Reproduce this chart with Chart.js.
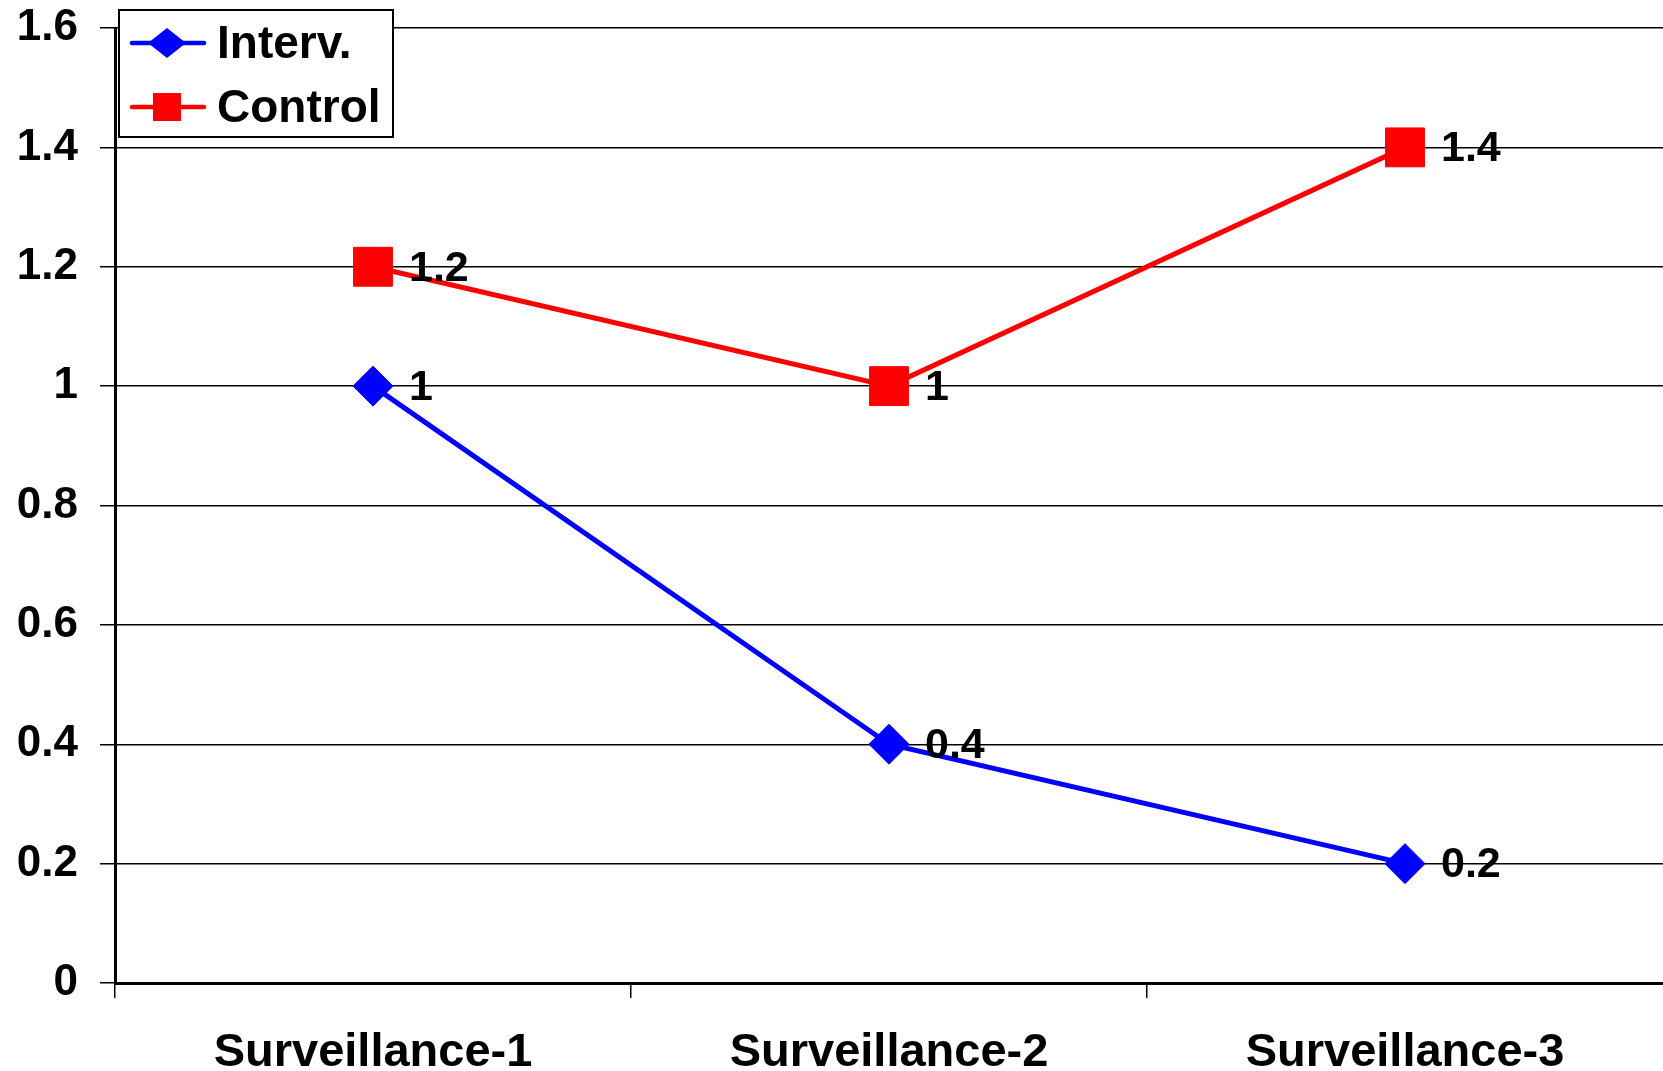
<!DOCTYPE html>
<html>
<head>
<meta charset="utf-8">
<script src="https://cdn.jsdelivr.net/npm/chart.js@4/dist/chart.umd.min.js"></script>
<style>
  html, body { margin: 0; padding: 0; background: #ffffff; }
  #wrap { width: 1663px; height: 1071px; position: relative; }
</style>
</head>
<body>
<div id="wrap"><canvas id="chart"></canvas></div>
<script>
// Survey rounds and the two series measured at each
const categories = ['Surveillance-1', 'Surveillance-2', 'Surveillance-3'];
const seriesNames = ['Interv.', 'Control'];
const intervValues = [1, 0.4, 0.2];
const controlValues = [1.2, 1, 1.4];
const yMin = 0;
const yMax = 1.6;
const yStep = 0.2;

const FONT = '"Liberation Sans", Arial, Helvetica, sans-serif';
const BLUE = '#0000ff';
const RED = '#ff0000';

// Value labels to the right of each marker
const valueLabels = {
  id: 'valueLabels',
  afterDatasetsDraw(chart) {
    const ctx = chart.ctx;
    ctx.save();
    ctx.font = 'bold 43px ' + FONT;
    ctx.fillStyle = '#000';
    ctx.textAlign = 'left';
    ctx.textBaseline = 'middle';
    chart.data.datasets.forEach((ds, i) => {
      const meta = chart.getDatasetMeta(i);
      meta.data.forEach((pt, j) => {
        ctx.fillText(String(ds.data[j]), pt.x + 36, pt.y + 2);
      });
    });
    ctx.restore();
  }
};

// Boxed legend with line-and-marker samples
const boxLegend = {
  id: 'boxLegend',
  afterDraw(chart) {
    const ctx = chart.ctx;
    const bx = 119, by = 10, bw = 274, bh = 127;
    ctx.save();
    ctx.fillStyle = '#fff';
    ctx.fillRect(bx, by, bw, bh);
    ctx.strokeStyle = '#000';
    ctx.lineWidth = 2;
    ctx.strokeRect(bx, by, bw, bh);
    const rows = [43, 107];
    chart.data.datasets.forEach((ds, i) => {
      const y = rows[i];
      ctx.strokeStyle = ds.borderColor;
      ctx.lineWidth = 4.5;
      ctx.lineCap = 'round';
      ctx.beginPath();
      ctx.moveTo(132, y);
      ctx.lineTo(204, y);
      ctx.stroke();
      ctx.fillStyle = ds.backgroundColor;
      const cx = 167;
      if (ds.pointStyle === 'rectRot') {
        ctx.beginPath();
        ctx.moveTo(cx - 19, y);
        ctx.lineTo(cx, y - 15);
        ctx.lineTo(cx + 19, y);
        ctx.lineTo(cx, y + 15);
        ctx.closePath();
        ctx.fill();
      } else {
        ctx.fillRect(cx - 14, y - 14, 28, 28);
      }
      ctx.fillStyle = '#000';
      ctx.font = 'bold 46px ' + FONT;
      ctx.textAlign = 'left';
      ctx.textBaseline = 'middle';
      ctx.fillText(ds.label, 217, y + 2);
    });
    ctx.restore();
  }
};

new Chart(document.getElementById('chart'), {
  type: 'line',
  data: {
    labels: categories,
    datasets: [
      {
        label: seriesNames[0],
        data: intervValues,
        borderColor: BLUE,
        backgroundColor: BLUE,
        borderWidth: 5,
        pointStyle: 'rectRot',
        pointRadius: 20,
        pointBorderWidth: 1,
        pointBorderColor: BLUE,
        pointBackgroundColor: BLUE,
        tension: 0,
        fill: false
      },
      {
        label: seriesNames[1],
        data: controlValues,
        borderColor: RED,
        backgroundColor: RED,
        borderWidth: 5,
        pointStyle: 'rect',
        pointRadius: 27.5,
        pointBorderWidth: 1,
        pointBorderColor: RED,
        pointBackgroundColor: RED,
        tension: 0,
        fill: false
      }
    ]
  },
  options: {
    responsive: true,
    maintainAspectRatio: false,
    animation: false,
    events: [],
    layout: { autoPadding: false, padding: { top: 28, right: 0, bottom: 0, left: 0 } },
    plugins: {
      legend: { display: false },
      tooltip: { enabled: false }
    },
    scales: {
      x: {
        offset: true,
        grid: {
          offset: true,
          drawOnChartArea: false,
          drawTicks: true,
          tickLength: 15,
          color: '#000',
          tickColor: (c) => ((c.index === undefined || c.index >= categories.length) ? 'rgba(0,0,0,0)' : '#000'),
          lineWidth: 1.5
        },
        border: { display: true, color: '#000', width: 3 },
        ticks: {
          color: '#000',
          padding: 27,
          maxRotation: 0,
          font: { family: FONT, size: 47, weight: 'bold', lineHeight: 1.2 }
        },
        afterFit(scale) {
          scale.height = 88;
          scale.paddingLeft = 0;
          scale.paddingRight = 0;
        }
      },
      y: {
        min: yMin,
        max: yMax,
        ticks: {
          stepSize: yStep,
          color: '#000',
          padding: 22,
          font: { family: FONT, size: 44, weight: 'bold', lineHeight: 1.2 },
          callback: (v) => String(Math.round(v * 10) / 10)
        },
        grid: {
          color: '#000',
          lineWidth: 1.5,
          tickLength: 15,
          drawTicks: true
        },
        border: { display: true, color: '#000', width: 3 },
        afterFit(scale) {
          scale.width = 115;
          scale.paddingTop = 0;
          scale.paddingBottom = 0;
        }
      }
    }
  },
  plugins: [valueLabels, boxLegend]
});
</script>
</body>
</html>
